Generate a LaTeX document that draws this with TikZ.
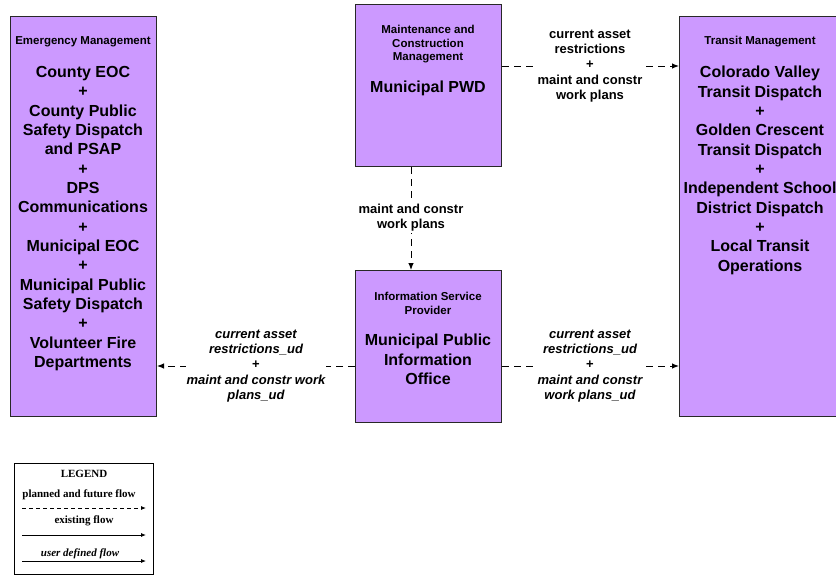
\documentclass[tikz,border=0pt]{standalone}
\usepackage{fontspec}
\setmainfont{Liberation Sans}
\newfontfamily\legfont{Liberation Serif}
\usetikzlibrary{arrows.meta}
\definecolor{boxfill}{RGB}{204,153,255}
\definecolor{boxline}{RGB}{40,40,40}
\tikzset{
  sysbox/.style={draw=boxline,fill=boxfill,line width=1pt,rectangle,inner sep=0pt,anchor=north west},
  ttl/.style={font=\fontsize{11.5}{13.5}\selectfont\bfseries,align=center,inner sep=0pt,anchor=north},
  body/.style={font=\fontsize{16}{19.35}\selectfont\bfseries,align=center,inner sep=0pt,anchor=north},
  lbl/.style={font=\fontsize{13}{15.2}\selectfont\bfseries,align=center,fill=white,inner sep=1pt},
  flow/.style={line width=1pt,dash pattern=on 7pt off 5pt,-{Latex[length=7pt,width=5.5pt]}},
  legtxt/.style={font=\legfont\fontsize{11}{12}\selectfont\bfseries,inner sep=0pt},
}
\begin{document}
\begin{tikzpicture}[x=1pt,y=-1pt]
\useasboundingbox (0,0) rectangle (836,576);
\clip (0,0) rectangle (836,576);
% boxes
\node[sysbox,minimum width=146pt,minimum height=400pt] (em) at (10,16) {};
\node[sysbox,minimum width=146pt,minimum height=162pt] (mc) at (355,4) {};
\node[sysbox,minimum width=146pt,minimum height=152pt] (isp) at (355,270) {};
\node[sysbox,minimum width=162pt,minimum height=400pt] (tm) at (679,16) {};
% texts
\node[ttl] (emt) at (83,36) {Emergency Management};
\node[body] (emb) at (83,66) {County EOC\\+\\County Public\\Safety Dispatch\\and PSAP\\+\\DPS\\Communications\\+\\Municipal EOC\\+\\Municipal Public\\Safety Dispatch\\+\\Volunteer Fire\\Departments};
\node[ttl] (mct) at (428,25) {Maintenance and\\Construction\\Management};
\node[body] (mcb) at (428,81) {Municipal PWD};
\node[ttl] (ispt) at (428,292) {Information Service\\Provider};
\node[body] (ispb) at (428,334) {Municipal Public\\Information\\Office};
\node[ttl] (tmt) at (760,36) {Transit Management};
\node[body] (tmb) at (760,66) {Colorado Valley\\Transit Dispatch\\+\\Golden Crescent\\Transit Dispatch\\+\\Independent School\\District Dispatch\\+\\Local Transit\\Operations};
% flows
\coordinate (c1) at (590,66);
\coordinate (c2) at (411,218);
\coordinate (c3) at (256,366);
\coordinate (c4) at (590,366);
\draw[flow] (mc.east |- c1) -- (tm.west |- c1);
\draw[flow] (mc.south -| c2) -- (isp.north -| c2);
\draw[flow] (isp.west |- c3) -- (em.east |- c3);
\draw[flow] (isp.east |- c4) -- (tm.west |- c4);
\node[lbl] (l1) at (c1) {current asset\\restrictions\\+\\maint and constr\\work plans};
\node[lbl] (l2) at (c2) {maint and constr\\work plans};
\node[lbl] (l3) at (c3) {\itshape current asset\\\itshape restrictions\_ud\\+\\\itshape maint and constr work\\\itshape plans\_ud};
\node[lbl] (l4) at (c4) {\itshape current asset\\\itshape restrictions\_ud\\+\\\itshape maint and constr\\\itshape work plans\_ud};
% legend
\node[draw=black,line width=1pt,minimum width=139pt,minimum height=111pt,inner sep=0pt,anchor=north west] (leg) at (14,463) {};
\node[legtxt] (legt) at (84,474) {LEGEND};
\node[legtxt] (lg1) at (79,495) {planned and future flow};
\node[legtxt] (lg2) at (84,521) {existing flow};
\node[legtxt,font=\legfont\fontsize{11}{12}\selectfont\bfseries\itshape] (lg3) at (80,554) {user defined flow};
\coordinate (a1) at (22,508); \coordinate (b1) at (146,508);
\coordinate (a2) at (22,535); \coordinate (b2) at (146,535);
\coordinate (a3) at (22,561); \coordinate (b3) at (146,561);
\draw[line width=0.8pt,dash pattern=on 4pt off 3pt,-{Latex[length=5pt,width=4pt]}] (a1) -- (b1);
\draw[line width=0.8pt,-{Latex[length=5pt,width=4pt]}] (a2) -- (b2);
\draw[line width=0.8pt,-{Latex[length=5pt,width=4pt]}] (a3) -- (b3);
\end{tikzpicture}
\end{document}
